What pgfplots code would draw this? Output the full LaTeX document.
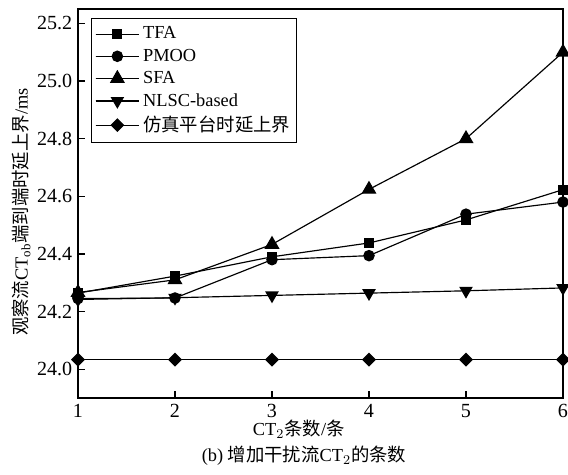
\documentclass[border=0pt]{standalone}
\usepackage{pgfplots}
\pgfplotsset{compat=1.18}
\usepackage{fontspec}
\setmainfont{Liberation Serif}
\newfontfamily\cjk{Noto Sans CJK SC}
\begin{document}
\begin{tikzpicture}
\begin{axis}[
  scale only axis,
  width=290.4pt, height=232.9pt,
  xmin=1, xmax=6, ymin=23.9, ymax=25.25,
  xtick={1,2,3,4,5,6},
  ytick={24.0,24.2,24.4,24.6,24.8,25.0,25.2},
  yticklabel style={/pgf/number format/.cd,fixed,fixed zerofill,precision=1},
  /pgf/number format/assume math mode=true,
  tick align=inside,
  xtick pos=bottom, ytick pos=left,
  major tick length=4pt,
  axis line style={line width=1.2pt},
  tick style={line width=0.8pt, black},
  ticklabel style={font=\fontsize{12}{14}\selectfont},
  label style={font=\fontsize{11}{13}\selectfont},
  xlabel={CT$_2${\cjk 条数}/{\cjk 条}},
  ylabel={{\cjk 观察流}CT$_{\mathrm{ob}}${\cjk 端到端时延上界}/ms},
  xlabel style={at={(ticklabel cs:0.455)}, yshift=5pt},
  ylabel style={at={(ticklabel cs:0.478)}, yshift=-3pt},
  legend style={at={(rel axis cs:0.027,0.977)}, anchor=north west,
    draw=black, line width=0.6pt, font=\fontsize{11}{13}\selectfont,
    row sep=0.5pt, inner xsep=2pt, inner ysep=3pt},
  legend cell align=left,
  legend image code/.code={
    \draw[#1] (0cm,0cm) -- (0.92cm,0cm);
    \draw[#1,mark repeat=2,mark phase=2] plot coordinates {(0cm,0cm) (0.46cm,0cm) (0.92cm,0cm)};
  },
  every axis plot/.append style={black, line width=0.7pt, mark options={solid, fill=black}},
]
\addplot[mark=square*, mark size=2.6pt] coordinates {(1,24.264) (2,24.323) (3,24.390) (4,24.438) (5,24.518) (6,24.623)};
\addlegendentry{TFA}
\addplot[mark=*, mark size=3.1pt] coordinates {(1,24.245) (2,24.247) (3,24.380) (4,24.394) (5,24.538) (6,24.580)};
\addlegendentry{PMOO}
\addplot[mark=triangle*, mark size=4.5pt] coordinates {(1,24.266) (2,24.310) (3,24.433) (4,24.624) (5,24.800) (6,25.100)};
\addlegendentry{SFA}
\addplot[mark=triangle*, mark size=4pt, mark options={rotate=180}] coordinates {(1,24.242) (2,24.248) (3,24.256) (4,24.264) (5,24.272) (6,24.282)};
\addlegendentry{NLSC-based}
\addplot[mark=square*, mark size=2.6pt, mark options={rotate=45}] coordinates {(1,24.033) (2,24.033) (3,24.033) (4,24.033) (5,24.033) (6,24.033)};
\addlegendentry{\cjk 仿真平台时延上界}
\end{axis}
\node[font=\fontsize{11}{13}\selectfont] at (135.3pt,-34.5pt) {(b) {\cjk 增加干扰流}CT$_2${\cjk 的条数}};
\pgfresetboundingbox
\path (-46.7pt,-46.1pt) rectangle (293.4pt,238.3pt);
\end{tikzpicture}
\end{document}
